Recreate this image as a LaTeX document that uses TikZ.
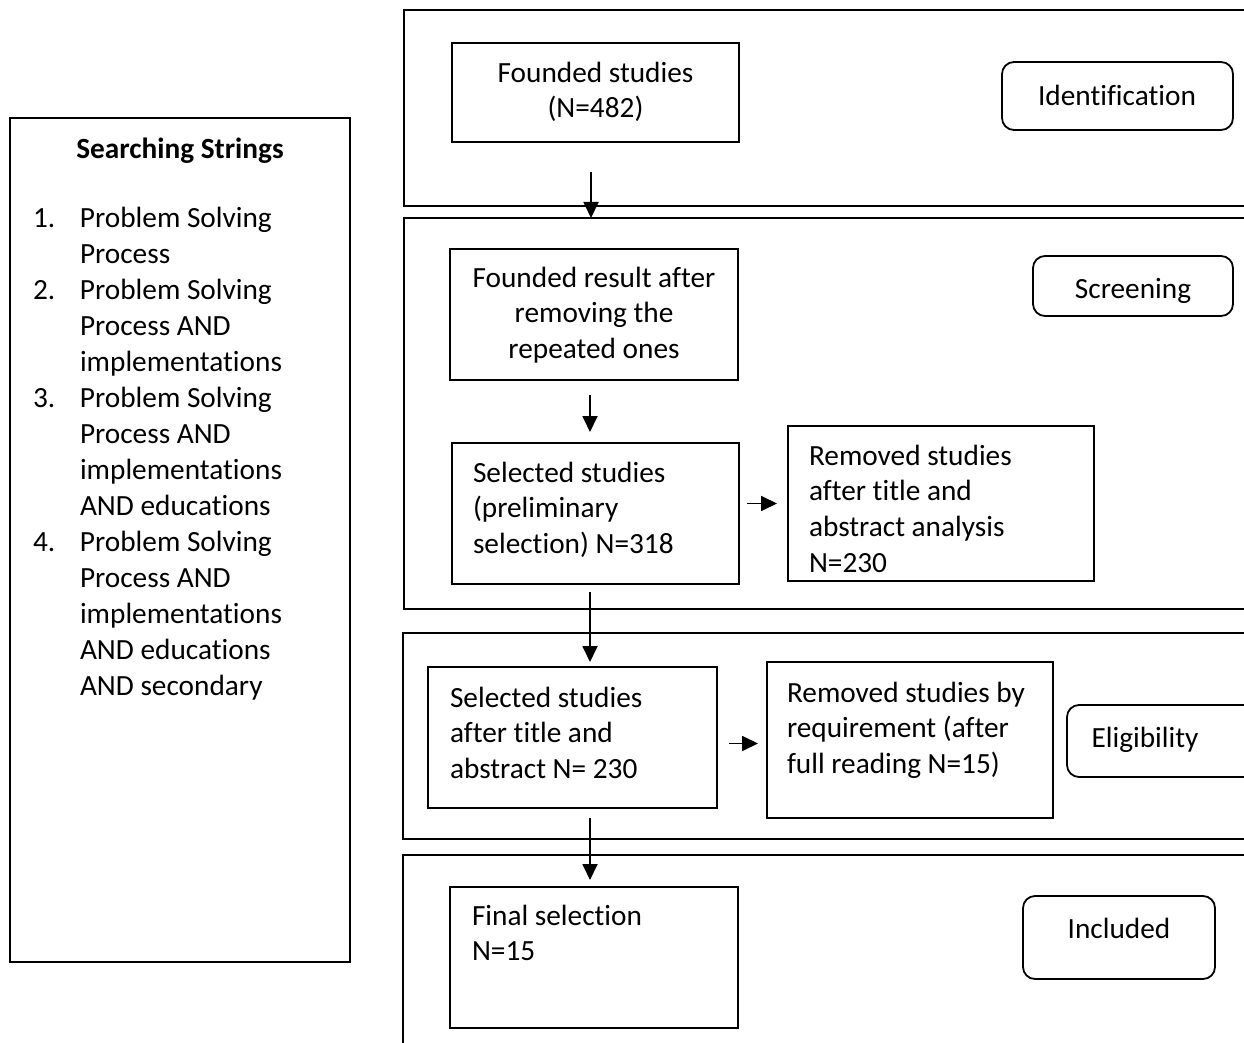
\documentclass[tikz,border=0pt]{standalone}
\usepackage{fontspec}
\setmainfont[Ligatures=NoCommon]{Carlito}
\usetikzlibrary{arrows.meta,calc}
\newcommand{\Lrows}[1]{\begin{tabular}{@{}l@{}}#1\end{tabular}}
\newcommand{\Crows}[1]{\begin{tabular}{@{}c@{}}#1\end{tabular}}
\newcommand{\nti}{t\kern0pt i}
\begin{document}
\begin{tikzpicture}[x=1pt,y=-1pt,
  box/.style={draw, line width=1.8pt, inner sep=0pt, outer sep=0pt, anchor=north west},
  pill/.style={box, rounded corners=12pt},
  txt/.style={inner sep=0pt, outer sep=0pt, font=\fontsize{29.3}{35.8}\selectfont},
  arr/.style={line width=1.8pt, -{Triangle[length=16pt,width=15pt]}}]
\clip (0,0) rectangle (1244,1043);
\fill[white] (0,0) rectangle (1244,1043);

% left box
\node[box, minimum width=340pt, minimum height=844pt] (ss) at (10,118) {};
\node[txt, anchor=base, font=\fontsize{29.3}{36}\selectfont\bfseries] (sstitle) at (180,159) {Searching Strings};
\node[txt, anchor=north west, font=\fontsize{29.3}{36}\selectfont] (sslist) at (33,202) {%
\begin{tabular}{@{}p{47pt}@{}l@{}}
1. & Problem Solving\\
   & Process\\
2. & Problem Solving\\
   & Process AND\\
   & implementa\nti ons\\
3. & Problem Solving\\
   & Process AND\\
   & implementa\nti ons\\
   & AND educa\nti ons\\
4. & Problem Solving\\
   & Process AND\\
   & implementa\nti ons\\
   & AND educa\nti ons\\
   & AND secondary
\end{tabular}};

% stage frames
\node[box, minimum width=880pt, minimum height=196pt] (s1) at (404,10) {};
\node[box, minimum width=880pt, minimum height=391pt] (s2) at (404,218) {};
\node[box, minimum width=880pt, minimum height=206pt] (s3) at (403,633) {};
\node[box, minimum width=880pt, minimum height=220pt] (s4) at (403,855) {};

% stage labels
\node[pill, minimum width=231pt, minimum height=68pt] (ident) at (1002,62) {};
\node[txt, anchor=base] (identt) at (1117,106) {Identifica\nti on};
\node[pill, minimum width=200pt, minimum height=60pt] (screen) at (1033,256) {};
\node[txt, anchor=base] (screent) at (1133,298) {Screening};
\node[pill, minimum width=200pt, minimum height=72pt] (elig) at (1067,705) {};
\node[txt, anchor=base] (eligt) at (1145,747) {Eligibility};
\node[pill, minimum width=192pt, minimum height=83pt] (incl) at (1023,896) {};
\node[txt, anchor=base] (inclt) at (1119,938) {Included};

% process boxes
\node[box, minimum width=287pt, minimum height=99pt] (found) at (452,43) {};
\node[txt, anchor=north] (foundt) at (595.5,57) {\Crows{Founded studies\\(N=482)}};

\node[box, minimum width=288pt, minimum height=131pt] (fr) at (450,249) {};
\node[txt, anchor=north] (frt) at (594,262) {\Crows{Founded result after\\removing the\\repeated ones}};

\node[box, minimum width=287pt, minimum height=141pt] (sel1) at (452,443) {};
\node[txt, anchor=north west] (sel1t) at (473,457) {\Lrows{Selected studies\\(preliminary\\selec\nti on) N=318}};

\node[box, minimum width=306pt, minimum height=155pt] (rem1) at (788,426) {};
\node[txt, anchor=north west] (rem1t) at (809,440) {\Lrows{Removed studies\\after \nti tle and\\abstract analysis\\N=230}};

\node[box, minimum width=289pt, minimum height=141pt] (sel2) at (428,667) {};
\node[txt, anchor=north west] (sel2t) at (450,682) {\Lrows{Selected studies\\after \nti tle and\\abstract N= 230}};

\node[box, minimum width=286pt, minimum height=156pt] (rem2) at (767,662) {};
\node[txt, anchor=north west] (rem2t) at (787,677) {\Lrows{Removed studies by\\requirement (after\\full reading N=15)}};

\node[box, minimum width=288pt, minimum height=141pt] (fin) at (450,887) {};
\node[txt, anchor=north west] (fint) at (472,900) {\Lrows{Final selec\nti on\\N=15}};

% arrows
\coordinate (a1) at ($(found.south)+(-4.5,30)$);
\draw[arr] (a1) -- (a1 |- s2.north);
\coordinate (a2) at ($(fr.south)+(-4,15)$);
\draw[arr, shorten >=11pt] (a2) -- (a2 |- sel1.north);
\coordinate (a3) at ($(sel1.east |- rem1.west)+(8,0)$);
\draw[arr, shorten >=11pt] (a3) -- (a3 -| rem1.west);
\coordinate (a4) at ($(sel1.south)+(-5.5,8)$);
\draw[arr, shorten >=5pt] (a4) -- (a4 |- sel2.north);
\coordinate (a5) at ($(sel2.east)+(12,6)$);
\draw[arr, shorten >=9pt] (a5) -- (a5 -| rem2.west);
\coordinate (a6) at ($(sel2.south -| fin.north)+(-4,10)$);
\draw[arr, shorten >=7pt] (a6) -- (a6 |- fin.north);
\end{tikzpicture}
\end{document}
